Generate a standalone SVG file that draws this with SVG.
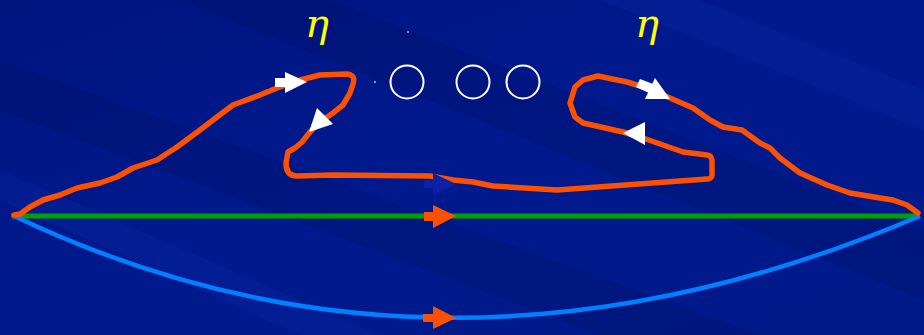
<svg xmlns="http://www.w3.org/2000/svg" width="924" height="335" viewBox="0 0 924 335">
<defs>
<style>
.loop{fill:none;stroke:#ff5000;stroke-width:5.5;stroke-linejoin:round;stroke-linecap:round}
.ring{fill:none;stroke:#ffffff;stroke-width:2}
.eta{font-family:"DejaVu Serif","Liberation Serif",serif;font-style:italic;font-size:40px;fill:#ffff00}
.wa{fill:#ffffff}
.ra{fill:#ff5000}
.ba{fill:#0a22a8}
</style>
<linearGradient id="bg" x1="0" y1="0" x2="1" y2="1">
<stop offset="0" stop-color="#001480"/>
<stop offset="0.5" stop-color="#001a8e"/>
<stop offset="1" stop-color="#001a8a"/>
</linearGradient>
</defs>
<rect width="924" height="335" fill="url(#bg)"/>
<g id="background-streaks" opacity="0.3">
<polygon points="0,60 0,110 600,335 760,335" fill="#000f66"/>
<polygon points="180,0 330,0 924,230 924,300" fill="#000f66"/>
<polygon points="600,0 700,0 924,90 924,130" fill="#0a2aa6"/>
<polygon points="0,170 0,200 300,335 380,335" fill="#0a2aa6"/>
</g>
<g id="connectors">
<line x1="12" y1="216" x2="920" y2="216" stroke="#00a000" stroke-width="5"/>
<path d="M12,215 Q440,420 920,216" fill="none" stroke="#0080ff" stroke-width="4.5"/>
<path class="loop" d="M14,215 L20,214 L30,207 L43,200 L60,195 L77,188 L100,183 L117,177 L133,168 L157,160 L177,147 L200,130 L217,117 L233,105 L260,95 L277,88 L300,80 L320,75 L347,74 Q356,75 353,84 L350,93 L343,105 L333,113 L320,122 L310,132 L302,142 L295,148 L288,152 L286,163 Q286,176 297,176 L333,175 L430,176 L453,180 L473,182 L493,186 L557,190 L707,179 Q713,179 712,172 L712,160 Q711,155 707,155 L683,152 L643,138 L623,132 L583,123 L575,117 L570,103 L575,87 L583,80 L598,76 L627,82 L647,88 L670,98 L693,108 L710,120 L723,127 L742,130 L760,143 L770,148 L780,158 L800,173 L827,185 L850,193 L880,198 L893,200 L907,205 L918,213"/>
</g>
<g id="flow-arrows">
<path class="ra" d="M424,212 L433,212 L433,205 L456,216 L433,228 L433,221 L424,221 Z"/>
<path class="ba" d="M424,180 L433,180 L433,173 L456,184 L433,195 L433,188 L424,188 Z"/>
<path class="ra" d="M423,314 L433,314 L433,306 L456,318 L433,329 L433,322 L423,322 Z"/>
<path class="wa" d="M275,78 L285,78 L285,72 L307,82 L285,93 L285,87 L275,87 Z"/>
<polygon class="wa" points="317,108 333,124 309,132"/>
<polygon class="wa" points="640,79 653,84 649,93 636,87"/>
<polygon class="wa" points="655,78 670,99 645,99"/>
<polygon class="wa" points="645,122 645,145 623,133"/>
</g>
<g id="eta-left"><text class="eta" x="305" y="37">η</text></g>
<g id="eta-right"><text class="eta" x="635" y="37">η</text></g>
<g id="ring-1"><circle class="ring" cx="407" cy="82" r="16.5"/></g>
<g id="ring-2"><circle class="ring" cx="473" cy="82" r="16.5"/></g>
<g id="ring-3"><circle class="ring" cx="523" cy="82" r="16.5"/></g>
<g id="dots">
<rect x="407.5" y="31" width="1" height="2" fill="#ffffff"/>
<rect x="374.5" y="81" width="1" height="2" fill="#ffffff"/>
</g>
</svg>
